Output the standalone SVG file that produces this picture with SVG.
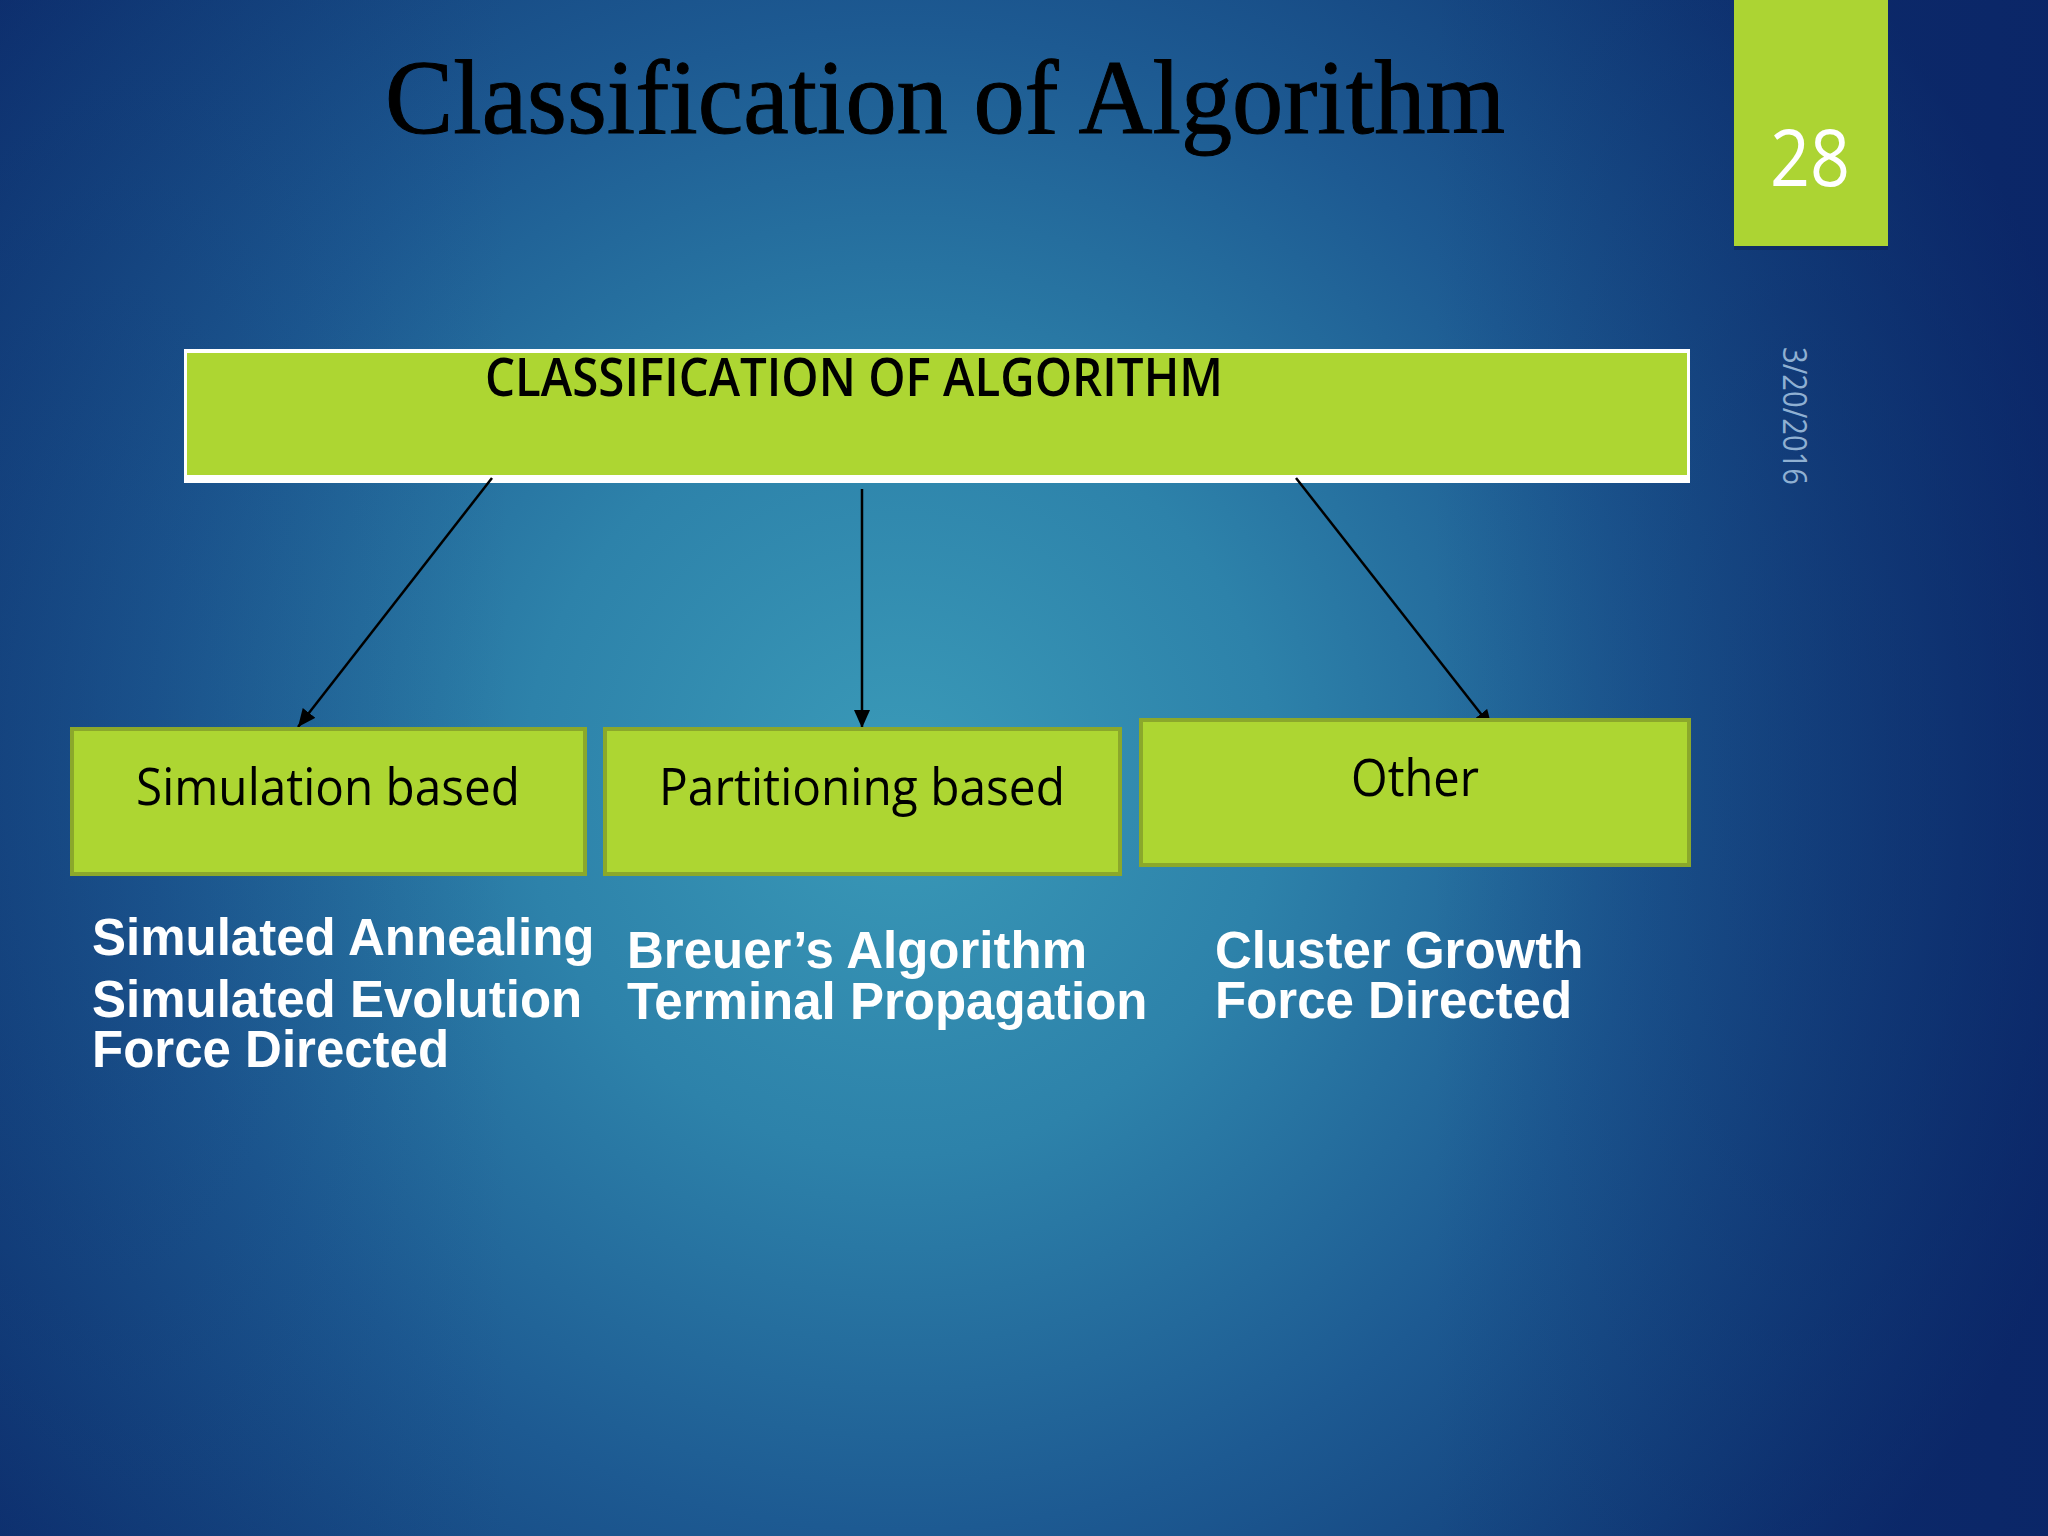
<svg xmlns="http://www.w3.org/2000/svg" width="2048" height="1536" viewBox="0 0 2048 1536">
  <defs>
    <radialGradient id="bg" gradientUnits="userSpaceOnUse" cx="900" cy="780" r="1250">
      <stop offset="0" stop-color="#3a9ab8"/>
      <stop offset="0.3" stop-color="#2d82aa"/>
      <stop offset="0.6" stop-color="#1d5a92"/>
      <stop offset="0.85" stop-color="#123e7a"/>
      <stop offset="1" stop-color="#0c2a6a"/>
    </radialGradient>
    <linearGradient id="shade" x1="0" y1="0" x2="1" y2="0">
      <stop offset="0" stop-color="#0c2a6a" stop-opacity="0.25"/>
      <stop offset="0.25" stop-color="#0c2a6a" stop-opacity="0"/>
      <stop offset="0.7" stop-color="#0c2a6a" stop-opacity="0"/>
      <stop offset="1" stop-color="#0a2466" stop-opacity="0.6"/>
    </linearGradient>
    <marker id="arrow" markerUnits="userSpaceOnUse" markerWidth="22" markerHeight="18" refX="18" refY="8" orient="auto">
      <path d="M0,0 L18,8 L0,16 Z" fill="#000"/>
    </marker>
    <style>
      .box { fill: #add632; stroke: #8ba82b; stroke-width: 4; }
      .boxText { font-family: "Open Sans", "Noto Sans", sans-serif; font-size: 52px; fill: #000; }
      .list { font-family: "Liberation Sans", Arial, sans-serif; font-weight: bold; font-size: 51px; fill: #fff; }
      .conn { stroke: #000; stroke-width: 2.5; fill: none; marker-end: url(#arrow); }
    </style>
  </defs>

  <rect x="0" y="0" width="2048" height="1536" fill="url(#bg)"/>
  <rect x="0" y="0" width="2048" height="1536" fill="url(#shade)"/>

  <!-- Title -->
  <text x="385" y="133" font-family="Liberation Serif, Times New Roman, serif" font-size="106" fill="#000" stroke="#000" stroke-width="1" textLength="1120" lengthAdjust="spacingAndGlyphs">Classification of Algorithm</text>

  <!-- Slide number tab -->
  <g id="slide-number">
    <rect x="1734" y="3" width="154" height="247" fill="#0a1f4f" opacity="0.45"/>
    <rect x="1734" y="0" width="154" height="246" fill="#acd433"/>
    <text x="1810" y="186" font-family="Open Sans, Noto Sans, sans-serif" font-size="78" fill="#fff" text-anchor="middle" textLength="80" lengthAdjust="spacingAndGlyphs">28</text>
  </g>

  <!-- Date -->
  <g id="date">
    <text transform="translate(1783,416) rotate(90)" x="0" y="0" font-family="Open Sans, Noto Sans, sans-serif" font-size="33" fill="#8fb0d2" text-anchor="middle" textLength="138" lengthAdjust="spacingAndGlyphs">3/20/2016</text>
  </g>

  <!-- Root node -->
  <g id="root">
    <rect x="184" y="349" width="1506" height="134" fill="#ffffff"/>
    <rect x="187" y="353" width="1500" height="122" fill="#add632"/>
    <text x="485" y="396" font-family="Open Sans, Noto Sans, sans-serif" font-weight="600" font-size="52" fill="#000" textLength="738" lengthAdjust="spacingAndGlyphs">CLASSIFICATION OF ALGORITHM</text>
  </g>

  <!-- Connectors -->
  <g id="connectors">
    <line class="conn" x1="492" y1="478" x2="298" y2="727"/>
    <line class="conn" x1="862" y1="489" x2="862" y2="728"/>
    <line class="conn" x1="1296" y1="478" x2="1492" y2="728"/>
  </g>

  <!-- Child nodes -->
  <g id="simulation">
    <rect class="box" x="72" y="729" width="513" height="145"/>
    <text class="boxText" x="136" y="805" textLength="384" lengthAdjust="spacingAndGlyphs">Simulation based</text>
  </g>
  <g id="partitioning">
    <rect class="box" x="605" y="729" width="515" height="145"/>
    <text class="boxText" x="659" y="805" textLength="406" lengthAdjust="spacingAndGlyphs">Partitioning based</text>
  </g>
  <g id="other">
    <rect class="box" x="1141" y="720" width="548" height="145"/>
    <text class="boxText" x="1351" y="796" textLength="128" lengthAdjust="spacingAndGlyphs">Other</text>
  </g>

  <!-- Lists -->
  <g id="simulation-list">
    <text class="list" x="92" y="955">Simulated Annealing</text>
    <text class="list" x="92" y="1017">Simulated Evolution</text>
    <text class="list" x="92" y="1067">Force Directed</text>
  </g>
  <g id="partitioning-list">
    <text class="list" x="627" y="968">Breuer’s Algorithm</text>
    <text class="list" x="627" y="1019">Terminal Propagation</text>
  </g>
  <g id="other-list">
    <text class="list" x="1215" y="968">Cluster Growth</text>
    <text class="list" x="1215" y="1018">Force Directed</text>
  </g>
</svg>
